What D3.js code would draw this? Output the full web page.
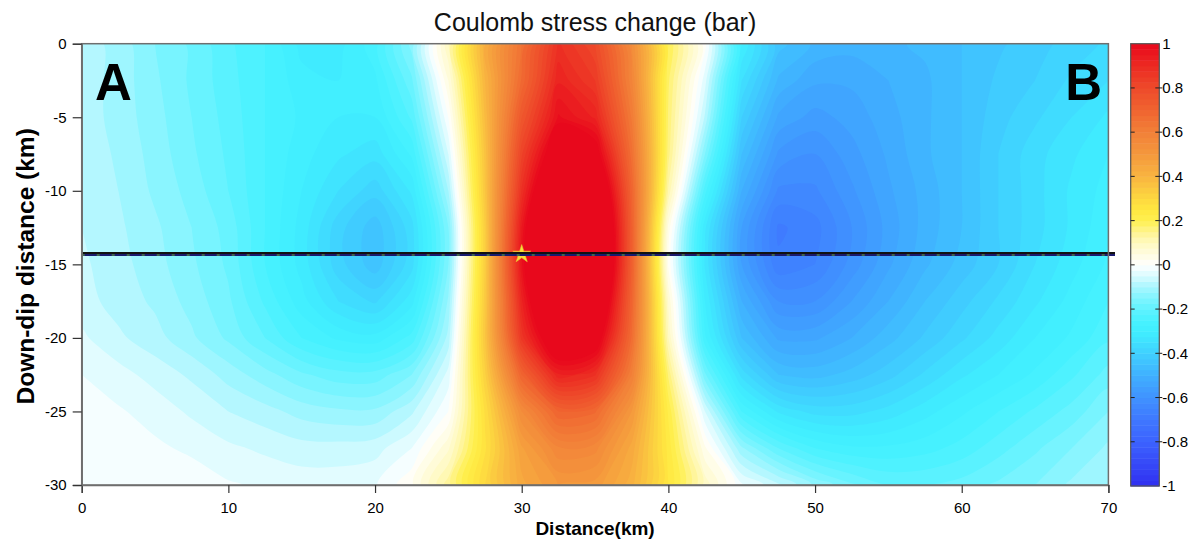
<!DOCTYPE html>
<html><head><meta charset="utf-8">
<script src="https://cdn.jsdelivr.net/npm/d3@7"></script>
<style>
body{margin:0;background:#fff;}
svg{display:block;font-family:Arial,"Liberation Sans",sans-serif;}
</style>
</head><body>
<svg id="chart" width="1200" height="548"></svg>
<script>
// ---- grid coordinates (km) ----
const gridX = [0,2.5,5,7.5,10,12.5,15,17.5,20,22.5,25,27.5,30,32.5,35,37.5,40,42.5,45,47.5,50,52.5,55,57.5,60,62.5,65,67.5,70];
const gridDepth = [0,-2.5,-5,-7.5,-10,-12.5,-15,-17.5,-20,-22.5,-25,-27.5,-30];

// ---- Coulomb stress change (bar), one row per depth ----
const row0    = [-0.085,-0.11,-0.15,-0.18,-0.22,-0.25,-0.31,-0.31,-0.26,-0.14,0.10,0.42,0.65,0.88,0.80,0.55,0.20,0.01,-0.30,-0.44,-0.48,-0.49,-0.48,-0.47,-0.45,-0.43,-0.41,-0.39,-0.37];
const row2_5  = [-0.085,-0.11,-0.145,-0.18,-0.215,-0.25,-0.29,-0.30,-0.28,-0.18,0.05,0.40,0.68,0.92,0.85,0.58,0.18,-0.04,-0.35,-0.48,-0.52,-0.52,-0.50,-0.48,-0.45,-0.42,-0.40,-0.37,-0.35];
const row5    = [-0.085,-0.11,-0.14,-0.175,-0.21,-0.25,-0.28,-0.30,-0.30,-0.22,0.00,0.38,0.75,0.98,0.92,0.62,0.17,-0.08,-0.40,-0.53,-0.56,-0.54,-0.51,-0.48,-0.45,-0.41,-0.38,-0.35,-0.32];
const row7_5  = [-0.08,-0.105,-0.135,-0.17,-0.205,-0.25,-0.29,-0.32,-0.34,-0.27,-0.05,0.36,0.82,1.10,1.05,0.66,0.16,-0.15,-0.45,-0.58,-0.60,-0.56,-0.52,-0.48,-0.45,-0.40,-0.36,-0.33,-0.30];
const row10   = [-0.08,-0.10,-0.13,-0.16,-0.20,-0.25,-0.30,-0.35,-0.39,-0.32,-0.10,0.35,0.88,1.25,1.20,0.70,0.12,-0.24,-0.50,-0.63,-0.63,-0.58,-0.53,-0.49,-0.45,-0.40,-0.36,-0.32,-0.29];
const row12_5 = [-0.075,-0.095,-0.12,-0.15,-0.185,-0.25,-0.31,-0.39,-0.44,-0.36,-0.15,0.33,0.95,1.40,1.30,0.72,0.04,-0.32,-0.55,-0.68,-0.66,-0.60,-0.54,-0.49,-0.45,-0.40,-0.36,-0.32,-0.28];
const row15   = [-0.07,-0.09,-0.115,-0.145,-0.18,-0.25,-0.31,-0.39,-0.44,-0.36,-0.15,0.33,0.97,1.40,1.30,0.72,0.02,-0.33,-0.55,-0.67,-0.65,-0.59,-0.53,-0.48,-0.44,-0.40,-0.35,-0.31,-0.27];
const row17_5 = [-0.065,-0.085,-0.105,-0.135,-0.17,-0.23,-0.29,-0.35,-0.38,-0.31,-0.12,0.34,0.92,1.28,1.20,0.70,0.07,-0.30,-0.50,-0.60,-0.60,-0.55,-0.50,-0.45,-0.41,-0.37,-0.33,-0.29,-0.25];
const row20   = [-0.045,-0.07,-0.09,-0.12,-0.155,-0.20,-0.25,-0.28,-0.29,-0.24,-0.09,0.35,0.86,1.12,1.07,0.67,0.10,-0.27,-0.45,-0.53,-0.53,-0.50,-0.46,-0.42,-0.38,-0.34,-0.30,-0.27,-0.23];
const row22_5 = [-0.025,-0.04,-0.06,-0.08,-0.11,-0.14,-0.17,-0.19,-0.19,-0.15,-0.04,0.32,0.70,0.92,0.88,0.60,0.17,-0.17,-0.36,-0.45,-0.46,-0.44,-0.41,-0.37,-0.33,-0.30,-0.27,-0.23,-0.19];
const row25   = [-0.015,-0.022,-0.035,-0.055,-0.075,-0.09,-0.11,-0.12,-0.12,-0.08,0.00,0.28,0.55,0.70,0.68,0.50,0.22,-0.05,-0.25,-0.33,-0.36,-0.36,-0.34,-0.31,-0.28,-0.25,-0.22,-0.19,-0.15];
const row27_5 = [-0.005,-0.01,-0.02,-0.03,-0.045,-0.055,-0.065,-0.065,-0.06,-0.025,0.07,0.27,0.47,0.57,0.56,0.44,0.24,0.03,-0.12,-0.20,-0.25,-0.27,-0.27,-0.26,-0.24,-0.21,-0.18,-0.15,-0.12];
const row30   = [0.00,0.00,-0.005,-0.01,-0.022,-0.03,-0.035,-0.035,-0.028,0.02,0.14,0.30,0.44,0.50,0.49,0.41,0.25,0.09,-0.02,-0.07,-0.13,-0.17,-0.20,-0.20,-0.19,-0.17,-0.15,-0.12,-0.10];

// ---- colour map ----
const stopValues = [-1,-0.8,-0.7,-0.6,-0.5,-0.45,-0.4,-0.35,-0.3,-0.25,-0.2,-0.15,-0.1,-0.05,0,0.05,0.1,0.15,0.2,0.25,0.3,0.4,0.5,0.6,0.7,0.8,0.9,1];
const stopColors = ['#3030f0','#3c62ff','#3f78ff','#4092ff','#40b0ff','#40c0ff','#40d0ff','#40e0ff','#40eeff','#48f2ff','#60f2ff','#80f4ff','#a8f6ff','#d8fbff','#ffffff','#fffce0','#fff9c0','#fff490','#fff050','#ffe840','#fdd840','#f8b440','#f4983c','#f28038','#f06430','#ee4a2a','#ec2a22','#e8081c'];
const levelStep = 0.025;

// ---- ticks / labels ----
const xTicks = [0,10,20,30,40,50,60,70];
const yTicks = [0,-5,-10,-15,-20,-25,-30];
const cbTicks = [1,0.8,0.6,0.4,0.2,0,-0.2,-0.4,-0.6,-0.8,-1];
const titleText = "Coulomb stress change (bar)";
const xTitle = "Distance(km)";
const yTitle = "Down-dip distance (km)";
const faultDepth = -14.3;
const epicenter = [30, -14.3];

// ---- layout ----
const M = {l:81.7, r:1108.4, t:43.7, b:485};
const x = d3.scaleLinear().domain([0,70]).range([M.l, M.r]);
const y = d3.scaleLinear().domain([-30,0]).range([M.b, M.t]);
const svg = d3.select('#chart');

svg.append('defs').append('clipPath').attr('id','plotclip')
  .append('rect').attr('x',M.l).attr('y',M.t).attr('width',M.r-M.l).attr('height',M.b-M.t);

const rows = [row0,row2_5,row5,row7_5,row10,row12_5,row15,row17_5,row20,row22_5,row25,row27_5,row30];
const nx = gridX.length, ny = gridDepth.length;
const values = rows.flat();
const thresholds = d3.range(-40, 41).map(i => +(i*levelStep).toFixed(4));
const color = d3.scaleLinear().domain(stopValues).range(stopColors).clamp(true);
const bandColor = t => color(t + levelStep/2);

const gx = d3.scaleLinear().domain([0.5, nx-0.5]).range([gridX[0], gridX[nx-1]]);
const gy = d3.scaleLinear().domain([0.5, ny-0.5]).range([gridDepth[0], gridDepth[ny-1]]);
const ringLine = d3.line().curve(d3.curveCatmullRomClosed.alpha(0.5));
function contourPath(geom){
  let s = '';
  geom.coordinates.forEach(poly => poly.forEach(ring => {
    const pts = ring.slice(0, -1).map(p => [x(gx(p[0])), y(gy(p[1]))]);
    if (pts.length > 2) s += ringLine(pts);
  }));
  return s;
}

const cont = d3.contours().size([nx, ny]).thresholds(thresholds)(values);
svg.append('g').attr('clip-path','url(#plotclip)')
  .selectAll('path').data(cont).join('path')
  .attr('d', contourPath)
  .attr('fill-rule','evenodd')
  .attr('fill', d => bandColor(d.value));

// epicenter star
svg.append('path')
  .attr('d', d3.symbol().type(d3.symbolStar).size(100)())
  .attr('transform', `translate(${x(epicenter[0])},${y(epicenter[1])})`)
  .attr('fill','#f7e03c').attr('stroke','#e8c430').attr('stroke-width',0.6);

// fault line
const fy = y(faultDepth);
svg.append('line').attr('x1',x(0)).attr('x2',x(70.45)).attr('y1',fy-1).attr('y2',fy-1)
  .attr('stroke','#111').attr('stroke-width',2);
svg.append('line').attr('x1',x(0)).attr('x2',x(70.45)).attr('y1',fy+1).attr('y2',fy+1)
  .attr('stroke','#1a1a6e').attr('stroke-width',2);
svg.append('line').attr('x1',x(0)).attr('x2',x(70.45)).attr('y1',fy+1).attr('y2',fy+1)
  .attr('stroke','#4a7a4a').attr('stroke-width',2).attr('stroke-dasharray','3 12').attr('opacity',0.8);

// frame
svg.append('rect').attr('x',M.l).attr('y',M.t).attr('width',M.r-M.l).attr('height',M.b-M.t)
  .attr('fill','none').attr('stroke','#6e6e6e').attr('stroke-width',1.5);

// axes
const xAxis = svg.append('g').attr('transform',`translate(0,${M.b})`)
  .call(d3.axisBottom(x).tickValues(xTicks).tickSize(8).tickPadding(9).tickFormat(d=>String(d)));
const yAxis = svg.append('g').attr('transform',`translate(${M.l},0)`)
  .call(d3.axisLeft(y).tickValues(yTicks).tickSize(9).tickPadding(6).tickFormat(d=>String(d)));
[xAxis,yAxis].forEach(a=>{
  a.select('.domain').attr('stroke','#6e6e6e').attr('stroke-width',1.5);
  a.selectAll('.tick line').attr('stroke','#333').attr('stroke-width',1.2);
  a.selectAll('.tick text').attr('fill','#000').style('font-size','15px').style('font-family','Arial,"Liberation Sans",sans-serif');
});

// panel letters
svg.append('text').attr('x',95).attr('y',100).text('A')
  .style('font-size','51px').style('font-weight','bold').attr('fill','#000');
svg.append('text').attr('x',1102).attr('y',100).attr('text-anchor','end').text('B')
  .style('font-size','51px').style('font-weight','bold').attr('fill','#000');

// titles
svg.append('text').attr('x',(M.l+M.r)/2).attr('y',31).attr('text-anchor','middle')
  .text(titleText).style('font-size','25px').attr('fill','#111');
svg.append('text').attr('x',(M.l+M.r)/2).attr('y',535).attr('text-anchor','middle')
  .text(xTitle).style('font-size','19px').style('font-weight','bold');
svg.append('text').attr('transform',`translate(34,${(M.t+M.b)/2+2}) rotate(-90)`).attr('text-anchor','middle')
  .text(yTitle).style('font-size','24.5px').style('font-weight','bold');

// colorbar
const cb = {l:1130.7, r:1159.3};
const cbY = d3.scaleLinear().domain([-1,1]).range([486, 43.7]);
const cbg = svg.append('g');
cbg.selectAll('rect.band').data(thresholds.slice(0,-1)).join('rect').attr('class','band')
  .attr('x',cb.l).attr('width',cb.r-cb.l)
  .attr('y',d=>cbY(d+levelStep)).attr('height',d=>cbY(d)-cbY(d+levelStep)+0.5)
  .attr('fill',d=>bandColor(d));
cbg.append('rect').attr('x',cb.l).attr('y',cbY(1)).attr('width',cb.r-cb.l).attr('height',cbY(-1)-cbY(1))
  .attr('fill','none').attr('stroke','#555').attr('stroke-width',1.2);
const cbt = cbg.selectAll('g.t').data(cbTicks).join('g').attr('class','t')
  .attr('transform',d=>`translate(0,${cbY(d)})`);
cbt.filter(d=>d!==1 && d!==-1).append('line').attr('x1',cb.l).attr('x2',cb.l+4).attr('stroke','#222');
cbt.filter(d=>d!==1 && d!==-1).append('line').attr('x1',cb.r-4).attr('x2',cb.r+3).attr('stroke','#222');
cbt.append('text').attr('x',cb.r+3).attr('dy','0.35em').text(d=>String(d))
  .style('font-size','15px').attr('fill','#000');
</script>
</body></html>
